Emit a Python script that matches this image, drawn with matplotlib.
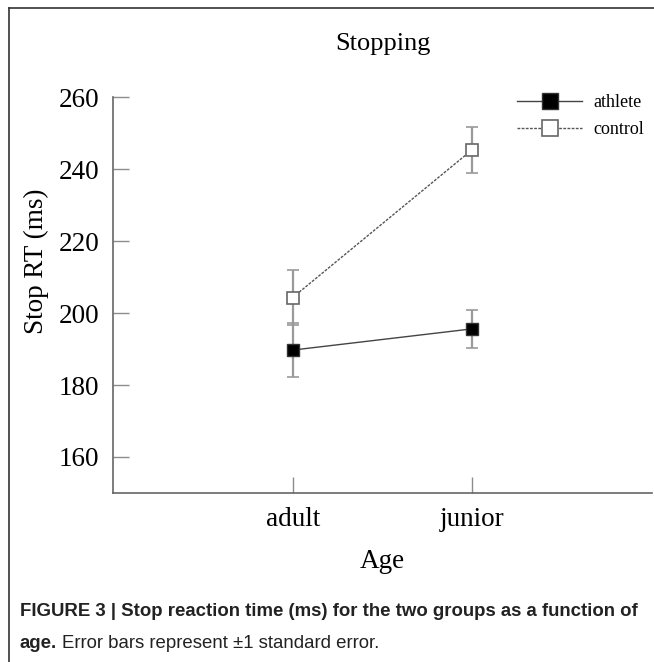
import numpy as np
import matplotlib.pyplot as plt
from matplotlib.lines import Line2D

# ============================================================================
""" Data read off the figure """
ages = ["adult", "junior"]
athlete_rt = [189.7, 195.6]
athlete_se = [7.6, 5.2]
control_rt = [204.3, 245.4]
control_se = [7.6, 6.4]
y_ticks = [160, 180, 200, 220, 240, 260]

serif = ["Liberation Serif", "DejaVu Serif"]
plt.rcParams["font.family"] = serif

# ============================================================================
fig = plt.figure(figsize=(6.54, 6.62), dpi=100)
ax = fig.add_axes([113/654, 1 - 493/662, (652 - 113)/654, (493 - 97)/662])

x = np.arange(1, len(ages) + 1)
gray = "#8c8c8c"
ebar = "#9a9a9a"

ax.errorbar(x, athlete_rt, yerr=athlete_se, fmt="none", ecolor=ebar,
            elinewidth=1.6, capsize=4, capthick=1.2, zorder=2)
ax.errorbar(x, control_rt, yerr=control_se, fmt="none", ecolor=ebar,
            elinewidth=1.6, capsize=4, capthick=1.2, zorder=2)

ax.plot(x, athlete_rt, color="#444444", lw=1, ls="-", marker="s", ms=8.4,
        mfc="black", mec="#333333", label="athlete", zorder=3)
ax.plot(x, control_rt, color="#555555", lw=1, ls=(0, (2, 1)), marker="s",
        ms=8.4, mfc="white", mec="#666666", mew=1.2, label="control", zorder=3)

ax.set_xlim(0, 3)
ax.set_ylim(150, 260)
ax.set_xticks(x)
ax.set_xticklabels(ages)
ax.set_yticks(y_ticks)
ax.tick_params(direction="in", length=11.5, width=1, color=gray,
               labelsize=19.5, pad=10)
ax.tick_params(axis="x", pad=10)
for side in ["top", "right"]:
    ax.spines[side].set_visible(False)
for side in ["left", "bottom"]:
    ax.spines[side].set_color("#666666")
    ax.spines[side].set_linewidth(1.2)

ax.set_title("Stopping", fontsize=19, pad=34)
ax.set_ylabel("Stop RT (ms)", fontsize=19.5)
ax.yaxis.set_label_coords(-0.118, 0.586)
ax.set_xlabel("Age", fontsize=19.5, labelpad=12)

ax.legend(loc="upper right", bbox_to_anchor=(0.998, 1.025), frameon=False,
          fontsize=13, handlelength=3.6, handletextpad=0.6, labelspacing=0.55,
          markerscale=1.45, borderaxespad=0.0)

# ============================================================================
""" Frame and caption """
fig.add_artist(Line2D([9/654, 1], [1 - 8/662, 1 - 8/662], color="#333333", lw=1.2))
fig.add_artist(Line2D([9/654, 9/654], [0, 1 - 8/662], color="#333333", lw=1.2))

cap_font = ["Liberation Sans Narrow", "Liberation Sans", "DejaVu Sans"]
fig.text(20/654, 1 - 611/662,
         "FIGURE 3 | Stop reaction time (ms) for the two groups as a function of",
         fontsize=13.4, fontweight="bold", family=cap_font, va="center", color="#222222")
t = fig.text(20/654, 1 - 643/662, "age.", fontsize=13.4, fontweight="bold",
             family=cap_font, va="center", color="#222222")
fig.canvas.draw()
bb = t.get_window_extent()
fig.text((bb.x1 + 5) / 654, 1 - 643/662,
         "Error bars represent \u00b11 standard error.",
         fontsize=13.4, family=cap_font, va="center", color="#222222")

fig.savefig("out.png", dpi=100)
